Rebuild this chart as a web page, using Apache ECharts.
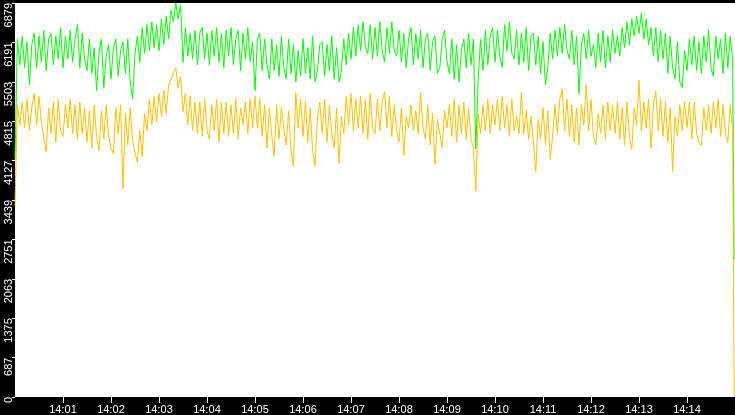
<!DOCTYPE html>
<html>
<head>
<meta charset="utf-8">
<script src="https://cdn.jsdelivr.net/npm/echarts@6/dist/echarts.min.js"></script>
<style>
html, body { margin: 0; padding: 0; background: #000; }
#chart { width: 735px; height: 415px; }
</style>
</head>
<body>
<div id="chart"></div>
<script>
// samples every 3 s from 14:00:00, last point is the drop at 14:14:59
var stepSec = 3;
var lastSec = 899;

var greenVals = [
  4160, 6250, 5800, 6300, 5750, 6200, 5450, 6150, 6350, 5750,
  6300, 5850, 6400, 5700, 6250, 6350, 5800, 6300, 5900, 6450,
  5750, 6300, 5900, 6400, 5850, 6250, 6500, 5750, 6350, 5900,
  5700, 6250, 5650, 6100, 5350, 6000, 6250, 5400, 5950, 6150,
  5550, 6100, 6250, 5600, 6050, 6200, 5650, 6250, 5500, 5200,
  6000, 6300, 5850, 6450, 6000, 6500, 6050, 6550, 6100, 6500,
  6050, 6600, 6150, 6650, 6250, 6750, 6550, 6879, 6600, 6850,
  5850, 6450, 5950, 6350, 5900, 6400, 5800, 6350, 6450, 5900,
  6350, 5800, 6400, 5950, 6450, 5850, 6350, 5750, 6400, 5950,
  6450, 5800, 6250, 6400, 5700, 6350, 5900, 6450, 5850, 6200,
  5350, 6250, 6350, 5700, 6250, 5800, 5550, 6250, 5700, 6150,
  5600, 6300, 5750, 5550, 6250, 5650, 6150, 5500, 6050, 5600,
  6250, 5650, 6100, 5550, 6300, 5500, 5700, 6150, 6200, 5600,
  6150, 5700, 6300, 5550, 6100, 5500, 5700, 6250, 5800, 6350,
  5900, 6450, 5950, 6500, 6050, 6550, 6100, 6000, 6500, 5900,
  6450, 5950, 6550, 6050, 5850, 6450, 6000, 6550, 6050, 5950,
  6400, 5850, 6350, 5750, 6250, 6450, 5800, 6350, 5900, 6400,
  5750, 6250, 6350, 5700, 6200, 6300, 5650, 5750, 6250, 6400,
  5850, 5650, 6250, 5550, 6150, 5500, 6050, 6250, 5750, 6350,
  5800, 6250, 4330, 5550, 6250, 5700, 6400, 5800, 6300, 6450,
  5850, 6400, 5950, 5750, 6500, 6050, 6550, 6000, 5900, 6400,
  5800, 6350, 5850, 6450, 5700, 6300, 6350, 5800, 6300, 5650,
  6200, 5450, 5750, 6350, 5900, 6400, 5950, 6450, 6000, 6500,
  6050, 5900, 6400, 5800, 6300, 5300, 6150, 6350, 5900, 6400,
  5950, 6150, 5750, 6350, 5850, 6400, 5750, 6300, 5850, 6400,
  6000, 6300, 5950, 6450, 6100, 6550, 6150, 6600, 6300, 6650,
  6350, 6700, 6250, 6600, 6150, 6450, 5950, 6450, 5850, 6400,
  5900, 6350, 5650, 6300, 5750, 5550, 6200, 5500, 5400, 6050,
  5700, 6250, 5800, 6300, 5700, 6200, 5650, 6300, 5850, 6400,
  5750, 5600, 6300, 5900, 6250, 5650, 6350, 5750, 6300, 5900
];
var greenLast = 2400;

var yellowVals = [
  3335, 5100, 4750, 5150, 4700, 5200, 4650, 5050, 5300, 4750,
  5250, 4800, 4500, 4280, 5050, 4600, 5150, 4450, 5200, 4650,
  4550, 5100, 4700, 5200, 4600, 5100, 4500, 5150, 4600, 5050,
  4450, 5000, 4350, 5100, 4550, 4300, 5000, 4500, 5100, 4550,
  4350, 4250, 5050, 4600, 5100, 3640, 4950, 4400, 5050, 4500,
  4250, 4100, 4650, 4200, 4950, 4650, 5200, 4750, 5250, 4800,
  5300, 4900, 5350, 4950, 5450, 5550, 5650, 5750, 5400, 5600,
  4980, 5300, 4750, 5250, 4650, 5150, 4600, 5150, 4550, 5200,
  4650, 4500, 5100, 4650, 5200, 4450, 5150, 4600, 5150, 4550,
  5100, 4600, 5200, 4500, 5050, 4750, 5150, 4600, 5200, 4700,
  5250, 4700, 5200, 4550, 5100, 4350, 5050, 4550, 4200, 5100,
  4500, 5050, 4700, 4400, 5000, 4300, 4030, 5310, 4700, 5200,
  4550, 5150, 4450, 5050, 4300, 4030, 4850, 5150, 4600, 5200,
  4450, 5100, 4600, 4350, 5050, 4080, 4900, 4600, 5250, 4750,
  5300, 4650, 5200, 4700, 5250, 4600, 5200, 4500, 5300, 4700,
  4600, 5200, 4650, 5150, 5330, 4700, 5250, 4550, 5100, 4650,
  4450, 5050, 4220, 4900, 4700, 5100, 4650, 5000, 4600, 5320,
  4700, 4500, 5100, 4400, 4950, 4060, 4850, 4600, 4350, 5000,
  4700, 5100, 4550, 5200, 4450, 5100, 4600, 5150, 4500, 5050,
  4500, 4350, 3600, 4950, 4600, 5100, 4650, 5200, 4600, 5100,
  4750, 5200, 4650, 5250, 4700, 5100, 4550, 5200, 4650, 4900,
  4600, 5320, 4600, 5000, 4500, 4900, 4450, 3940, 4850, 4500,
  5050, 4400, 5000, 4150, 4550, 5100, 4600, 5200, 5380, 4650,
  5200, 4550, 5100, 4450, 5050, 4400, 5100, 4750, 5460, 4650,
  5200, 4550, 4400, 4950, 4600, 5100, 4500, 5150, 4650, 5100,
  4600, 5150, 4500, 5050, 4400, 5150, 4550, 4320, 5050, 4750,
  5530, 4650, 5150, 4700, 5200, 4340, 5100, 5340, 4650, 5200,
  4550, 5150, 4450, 5050, 3940, 4900, 4550, 5100, 4650, 5150,
  4700, 5150, 4500, 5150, 4600, 4450, 4390, 5050, 4650, 5100,
  4600, 5150, 4700, 5200, 4550, 5100, 4600, 4440, 5100, 4700
];
var yellowLast = 0;

var yMax = 6879;
var yStep = 687.9;

function toPairs(vals, last) {
  var out = [];
  for (var i = 0; i < vals.length; i++) out.push([i * stepSec, vals[i]]);
  out.push([lastSec, last]);
  return out;
}

function pad(n) { return (n < 10 ? '0' : '') + n; }

var myChart = echarts.init(document.getElementById('chart'));
var txt = { color: '#fff', fontSize: 11, fontFamily: 'Liberation Sans, Arial, sans-serif' };

var option = {
  backgroundColor: '#000',
  animation: false,
  grid: {
    left: 15, right: 0, top: 0, bottom: 17,
    show: true, backgroundColor: '#fff', borderWidth: 0
  },
  xAxis: {
    type: 'value',
    min: 0, max: 900, interval: 60,
    axisLine: { show: false },
    axisTick: { show: true, length: 6, lineStyle: { color: '#fff' } },
    splitLine: { show: false },
    axisLabel: Object.assign({
      margin: 7,
      showMinLabel: false, showMaxLabel: false,
      formatter: function (v) { return '14:' + pad(Math.round(v / 60)); }
    }, txt)
  },
  yAxis: {
    type: 'value',
    min: 0, max: yMax, interval: yStep,
    axisLine: { show: false },
    axisTick: { show: true, length: 3, lineStyle: { color: '#fff' } },
    splitLine: { show: false },
    axisLabel: Object.assign({
      rotate: 90, margin: 1, align: 'right', verticalAlign: 'bottom',
      formatter: function (v) { return String(Math.floor(v + 0.001)); }
    }, txt)
  },
  series: [
    {
      name: 'green', type: 'line', symbol: 'none',
      lineStyle: { color: '#00ff00', width: 1 },
      data: toPairs(greenVals, greenLast)
    },
    {
      name: 'yellow', type: 'line', symbol: 'none',
      lineStyle: { color: '#ffc000', width: 1 },
      data: toPairs(yellowVals, yellowLast)
    }
  ]
};

myChart.setOption(option);
</script>
</body>
</html>
